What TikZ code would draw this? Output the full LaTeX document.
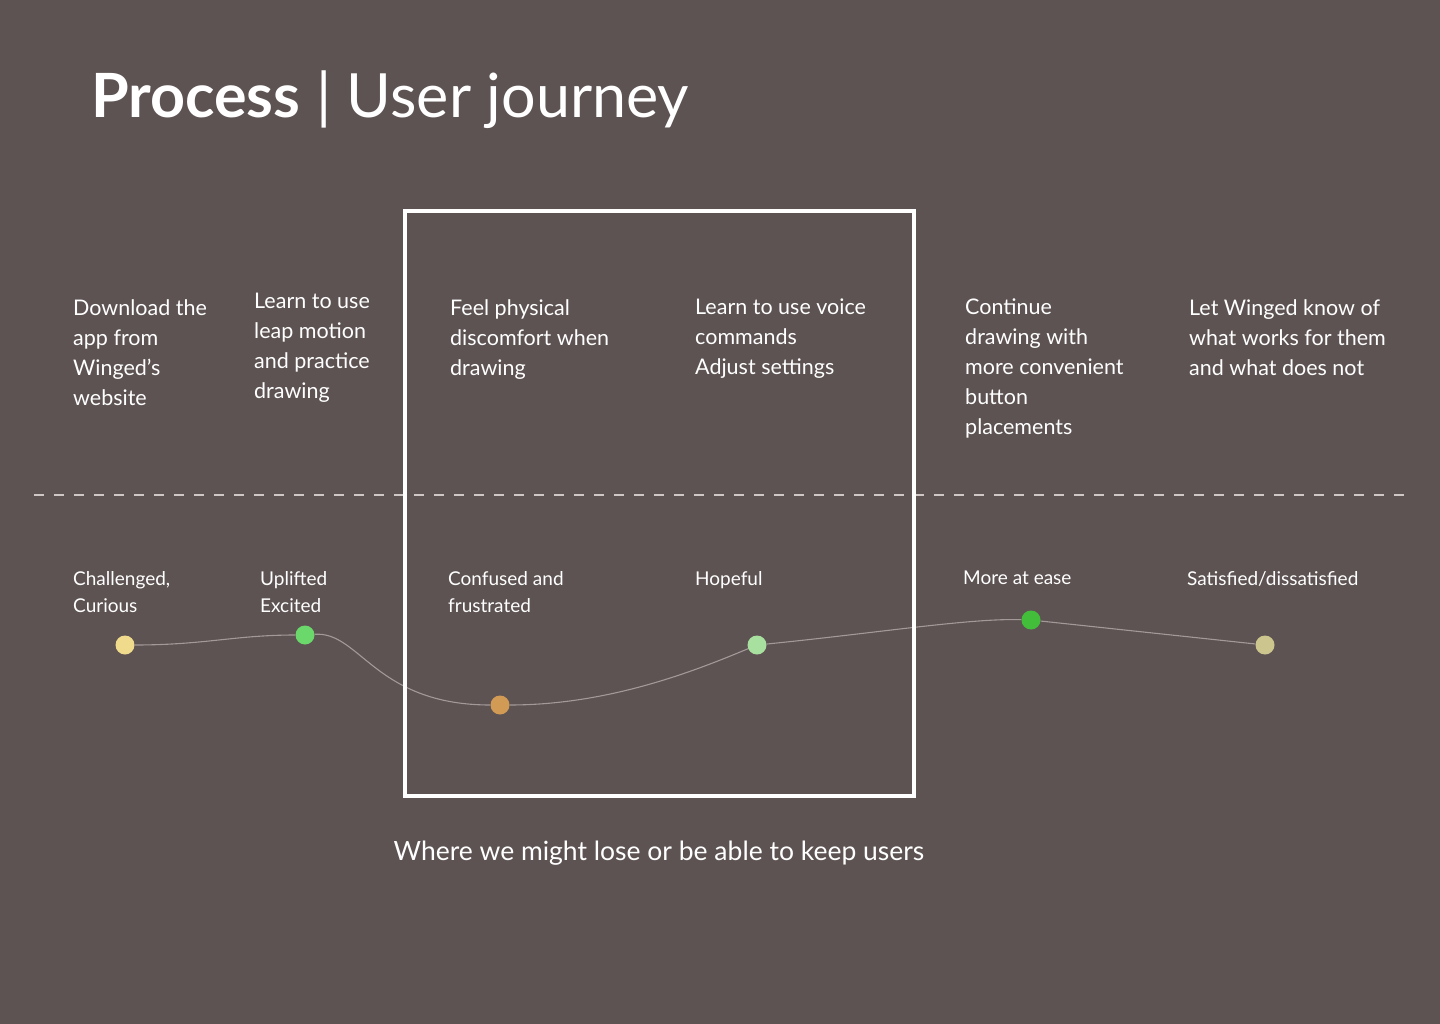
\documentclass[tikz,border=0pt]{standalone}
\usepackage{fontspec}
\setmainfont{Lato}
\definecolor{bgbrown}{HTML}{5E5353}
\definecolor{dashgray}{HTML}{CFC6C6}
\definecolor{curvegray}{HTML}{A39999}
\definecolor{moodA}{HTML}{F0DB8C}
\definecolor{moodB}{HTML}{6AD86A}
\definecolor{moodC}{HTML}{D19A55}
\definecolor{moodD}{HTML}{A8E0A0}
\definecolor{moodE}{HTML}{43BE3A}
\definecolor{moodF}{HTML}{CCC58D}
\begin{document}
\begin{tikzpicture}[x=1pt,y=-1pt]
  \tikzstyle{step text}=[anchor=north west, inner sep=0pt, align=left, text=white,
    font=\fontsize{21.5}{30}\selectfont]
  \tikzstyle{mood}=[anchor=north west, inner sep=0pt, align=left, text=white,
    font=\fontsize{19}{27}\selectfont]
  \tikzstyle{dot}=[circle, minimum size=19pt, inner sep=0pt]
  \tikzstyle{curve}=[curvegray, line width=1.1pt]

  \fill[bgbrown] (0,0) rectangle (1440,1024);

  % title
  \node[anchor=base west, inner sep=0pt, text=white] (title) at (91,118)
    {\fontsize{61}{70}\selectfont\textbf{Process} | User journey};

  % steps
  \node[step text] (s1) at (73,299)  {Download the\\app from\\Winged's\\website};
  \node[step text] (s2) at (254,293) {Learn to use\\leap motion\\and practice\\drawing};
  \node[step text] (s3) at (450,299) {Feel physical\\discomfort when\\drawing};
  \node[step text] (s4) at (695,299) {Learn to use voice\\commands\\Adjust settings};
  \node[step text] (s5) at (965,299) {Continue\\drawing with\\more convenient\\button\\placements};
  \node[step text] (s6) at (1189,299) {Let Winged know of\\what works for them\\and what does not};

  % divider
  \coordinate (dashL) at (34,495);
  \coordinate (dashR) at (1408,495);
  \draw[dashgray, line width=1.3pt, dash pattern=on 10pt off 10pt] (dashL) -- (dashR);

  % feelings
  \node[mood] (m1) at (73,571)   {Challenged,\\Curious};
  \node[mood] (m2) at (260,571)  {Uplifted\\Excited};
  \node[mood] (m3) at (448,571)  {Confused and\\frustrated};
  \node[mood] (m4) at (695,571)  {Hopeful};
  \node[mood] (m5) at (963,571)  {More at ease};
  \node[mood] (m6) at (1187,571) {Satisfied/dissatisfied};

  % mood dots
  \node[dot, fill=moodA] (d1) at (125,645)  {};
  \node[dot, fill=moodB] (d2) at (305,635)  {};
  \node[dot, fill=moodC] (d3) at (500,705)  {};
  \node[dot, fill=moodD] (d4) at (757,645)  {};
  \node[dot, fill=moodE] (d5) at (1031,620) {};
  \node[dot, fill=moodF] (d6) at (1265,645) {};

  \draw[curve] (d1) .. controls +(80,0) and +(-70,0) .. (d2);
  \draw[curve] (d2) .. controls +(55,-4) and +(-125,0) .. (d3);
  \draw[curve] (d3) .. controls +(110,0) and +(-60,25) .. (d4);
  \draw[curve] (d4) .. controls +(120,-12) and +(-60,-2) .. (d5);
  \draw[curve] (d5) -- (d6);

  % focus box
  \draw[white, line width=4pt] (405,211) rectangle (914,796);

  \node[anchor=base, inner sep=0pt, text=white, font=\fontsize{26.5}{30}\selectfont]
    (caption) at (659,860) {Where we might lose or be able to keep users};
\end{tikzpicture}
\end{document}
